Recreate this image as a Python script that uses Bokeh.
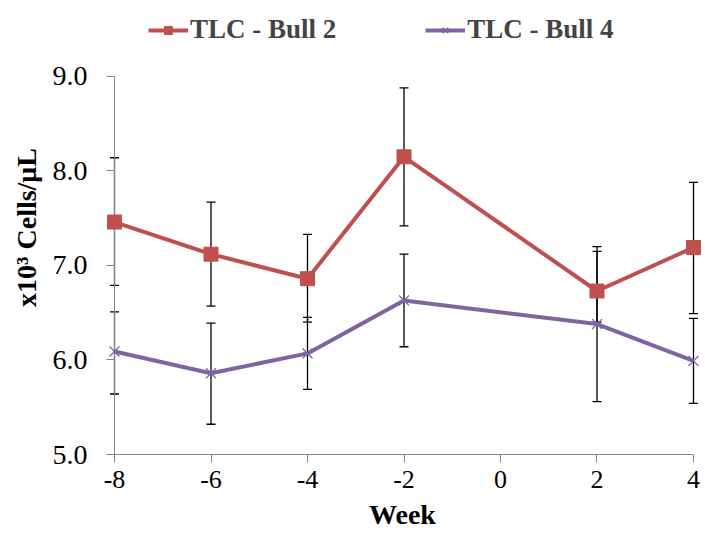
from bokeh.plotting import figure
from bokeh.models import (Range1d, Whisker, ColumnDataSource, Legend, LegendItem,
                          TeeHead, NumeralTickFormatter, FixedTicker)
from bokeh.embed import file_html
from bokeh.resources import INLINE

weeks = [-8, -6, -4, -2, 2, 4]
bull2 = [7.46, 7.12, 6.86, 8.15, 6.73, 7.19]
bull2_lo = [6.79, 6.57, 6.40, 7.42, 6.40, 6.49]
bull2_hi = [8.14, 7.67, 7.33, 8.88, 7.20, 7.88]
bull4 = [6.09, 5.86, 6.07, 6.63, 6.38, 5.99]
bull4_lo = [5.64, 5.32, 5.69, 6.14, 5.56, 5.54]
bull4_hi = [6.51, 6.39, 6.45, 7.12, 7.15, 6.44]
x_ticks = [-8, -6, -4, -2, 0, 2, 4]
y_ticks = [5, 6, 7, 8, 9]
series_names = ["TLC - Bull 2", "TLC - Bull 4"]

RED = "#C0504D"
PURPLE = "#8064A2"
AXIS = "#868686"
FONT = "Liberation Serif"

# frame spans the whole top of the page so the legend can sit inside it
p = figure(width=705, height=533, output_backend="svg", toolbar_location=None,
           x_range=Range1d(-8.2902, 4.228), y_range=Range1d(5, 9.8042),
           min_border_left=100, min_border_right=1, min_border_top=0,
           min_border_bottom=79)
p.outline_line_color = None
p.grid.visible = False
p.background_fill_color = "white"
p.border_fill_color = "white"

src2 = ColumnDataSource(dict(x=weeks, y=bull2, lo=bull2_lo, hi=bull2_hi))
src4 = ColumnDataSource(dict(x=weeks, y=bull4, lo=bull4_lo, hi=bull4_hi))

# y axis line at the first week
p.segment(x0=[x_ticks[0]], y0=[y_ticks[0]], x1=[x_ticks[0]], y1=[y_ticks[-1]],
          line_color=AXIS, line_width=1)

for src in (src2, src4):
    w = Whisker(source=src, base="x", upper="hi", lower="lo",
                line_color="black", line_width=1.3, level="underlay",
                upper_head=TeeHead(size=9, line_color="black", line_width=1.3),
                lower_head=TeeHead(size=9, line_color="black", line_width=1.3))
    p.add_layout(w)

l2 = p.line("x", "y", source=src2, line_color=RED, line_width=4)
m2 = p.scatter("x", "y", source=src2, marker="square", size=14,
               fill_color=RED, line_color=RED)
l4 = p.line("x", "y", source=src4, line_color=PURPLE, line_width=4)
m4 = p.scatter("x", "y", source=src4, marker="x", size=14,
               line_color=PURPLE, line_width=1.3)

# axes
p.xaxis.ticker = FixedTicker(ticks=x_ticks)
p.xaxis.major_label_overrides = {t: str(t) for t in x_ticks}
p.yaxis.ticker = FixedTicker(ticks=y_ticks)
p.yaxis.formatter = NumeralTickFormatter(format="0.0")
p.xaxis.bounds = (x_ticks[0], x_ticks[-1])
p.yaxis.bounds = (y_ticks[0], y_ticks[-1])
for ax in (p.xaxis, p.yaxis):
    ax.axis_line_color = AXIS
    ax.major_tick_line_color = AXIS
    ax.minor_tick_line_color = None
    ax.major_label_text_font = FONT
    ax.major_label_text_color = "black"
    ax.axis_label_text_font = FONT
    ax.axis_label_text_font_size = "28px"
    ax.axis_label_text_font_style = "bold"
    ax.axis_label_text_color = "black"
p.xaxis.major_label_text_font_size = "26px"
p.yaxis.major_label_text_font_size = "28px"
p.xaxis.major_tick_in = 0
p.xaxis.major_tick_out = 8
# y axis sits at the frame edge; its ticks are shifted onto the week -8 line
p.yaxis.axis_line_color = None
p.yaxis.major_tick_out = -6
p.yaxis.major_tick_in = 14
p.xaxis.axis_label = "Week"
p.yaxis.axis_label = "x10\u00b3 Cells/\u03bcL"
p.xaxis.major_label_standoff = 8
p.yaxis.major_label_standoff = 13
p.xaxis.axis_label_standoff = 8
p.yaxis.axis_label_standoff = 8

legend = Legend(items=[LegendItem(label=series_names[0], renderers=[l2, m2]),
                       LegendItem(label=series_names[1], renderers=[l4, m4])],
                orientation="horizontal", location=(48, 409),
                label_text_font=FONT, label_text_font_size="27px",
                label_text_font_style="bold", glyph_width=40, glyph_height=20,
                label_standoff=2, spacing=89, padding=0, margin=0,
                border_line_color=None, background_fill_alpha=0)
p.add_layout(legend, "center")

open("out.html", "w").write(file_html(p, INLINE))
